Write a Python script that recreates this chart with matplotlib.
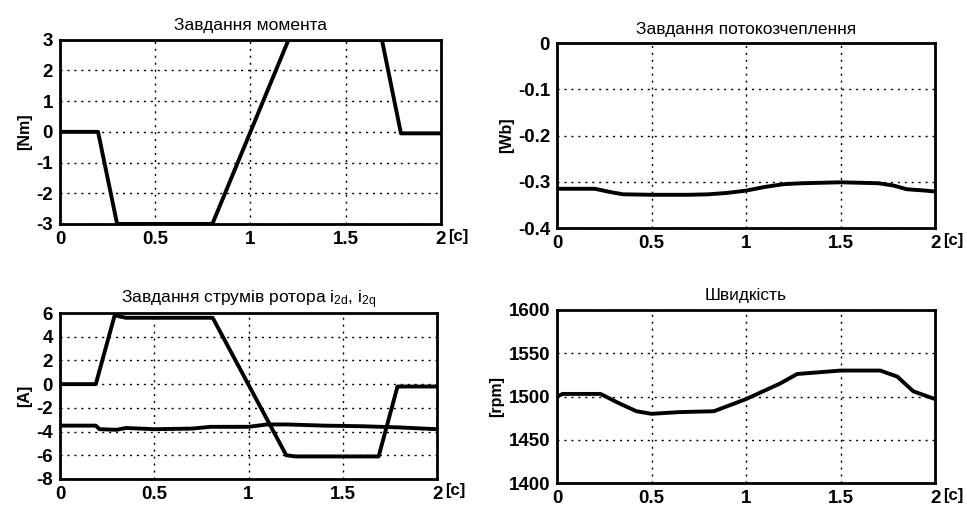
'''Task signals of the rotor-flux drive: torque, flux, rotor currents, speed'''
import matplotlib.pyplot as plt

plt.rcParams['font.family'] = ['Liberation Sans', 'DejaVu Sans']
plt.rcParams['mathtext.default'] = 'regular'

# torque reference [Nm]
torque_t = [0, 0.2, 0.3, 0.8, 1.2, 1.69, 1.79, 2.0]
torque_v = [0, 0, -3, -3, 3, 3, -0.05, -0.05]

# flux linkage reference [Wb]
flux_t = [0, 0.1, 0.2, 0.28, 0.35, 0.5, 0.7, 0.8, 0.9, 1.0, 1.1, 1.2, 1.3,
          1.4, 1.5, 1.6, 1.7, 1.78, 1.85, 1.95, 2.0]
flux_v = [-0.315, -0.315, -0.315, -0.322, -0.327, -0.328, -0.328, -0.327,
          -0.324, -0.319, -0.311, -0.305, -0.303, -0.302, -0.301, -0.302,
          -0.303, -0.308, -0.316, -0.319, -0.321]

# rotor current references [A]
i2d_t = [0, 0.19, 0.29, 0.35, 0.81, 1.2, 1.25, 1.69, 1.79, 2.0]
i2d_v = [0, 0, 5.8, 5.6, 5.6, -6.0, -6.1, -6.1, -0.2, -0.2]
i2q_t = [0, 0.19, 0.21, 0.3, 0.35, 0.5, 0.7, 0.8, 0.9, 1.0, 1.1, 1.2,
         1.4, 1.6, 1.8, 2.0]
i2q_v = [-3.5, -3.5, -3.8, -3.85, -3.7, -3.8, -3.75, -3.6, -3.6, -3.6,
         -3.4, -3.4, -3.5, -3.55, -3.65, -3.8]

# speed [rpm]
speed_t = [0, 0.03, 0.23, 0.33, 0.42, 0.5, 0.65, 0.83, 1.0, 1.18, 1.27,
           1.5, 1.71, 1.8, 1.885, 2.0]
speed_v = [1500, 1503, 1503, 1492, 1483, 1480, 1482, 1483, 1497, 1515,
           1526, 1530, 1530, 1523, 1506, 1497]

fig = plt.figure(figsize=(9.67, 5.09), dpi=100)

panels = [
    dict(rect=[0.062, 0.560, 0.394, 0.362], title='Завдання момента',
         ylabel='[Nm]', ylim=(-3, 3), yticks=[-3, -2, -1, 0, 1, 2, 3],
         series=[(torque_t, torque_v)]),
    dict(rect=[0.576, 0.552, 0.391, 0.363], title='Завдання потокозчеплення',
         ylabel='[Wb]', ylim=(-0.4, 0), yticks=[-0.4, -0.3, -0.2, -0.1, 0],
         series=[(flux_t, flux_v)]),
    dict(rect=[0.062, 0.059, 0.390, 0.326],
         title='Завдання струмів ротора i$_{2d}$, i$_{2q}$',
         ylabel='[A]', ylim=(-8, 6), yticks=[-8, -6, -4, -2, 0, 2, 4, 6],
         series=[(i2d_t, i2d_v), (i2q_t, i2q_v)]),
    dict(rect=[0.576, 0.051, 0.391, 0.340], title='Швидкість',
         ylabel='[rpm]', ylim=(1400, 1600),
         yticks=[1400, 1450, 1500, 1550, 1600],
         series=[(speed_t, speed_v)]),
]

for p in panels:
    ax = fig.add_axes(p['rect'])
    for t, v in p['series']:
        ax.plot(t, v, color='black', lw=2.8)
    ax.set_xlim(0, 2)
    ax.set_ylim(*p['ylim'])
    ax.set_xticks([0, 0.5, 1, 1.5, 2])
    ax.set_xticklabels(['0', '0.5', '1', '1.5', '2'])
    ax.set_yticks(p['yticks'])
    ax.set_yticklabels([f'{v:g}' for v in p['yticks']])
    ax.grid(True, color='black', linestyle=(0, (1.5, 3.5)), lw=1.0)
    ax.tick_params(direction='in', length=0, labelsize=13.5, pad=5)
    for lab in ax.get_xticklabels() + ax.get_yticklabels():
        lab.set_fontweight('bold')
    for sp in ax.spines.values():
        sp.set_linewidth(2.0)
    ax.set_title(p['title'], fontsize=12.5, pad=7)
    ax.set_ylabel(p['ylabel'], fontsize=11.5, fontweight='bold', labelpad=3)
    ax.text(1.02, -0.07, '[c]', transform=ax.transAxes, fontsize=12,
            fontweight='bold', ha='left', va='center')

fig.savefig('out.png', dpi=100)
